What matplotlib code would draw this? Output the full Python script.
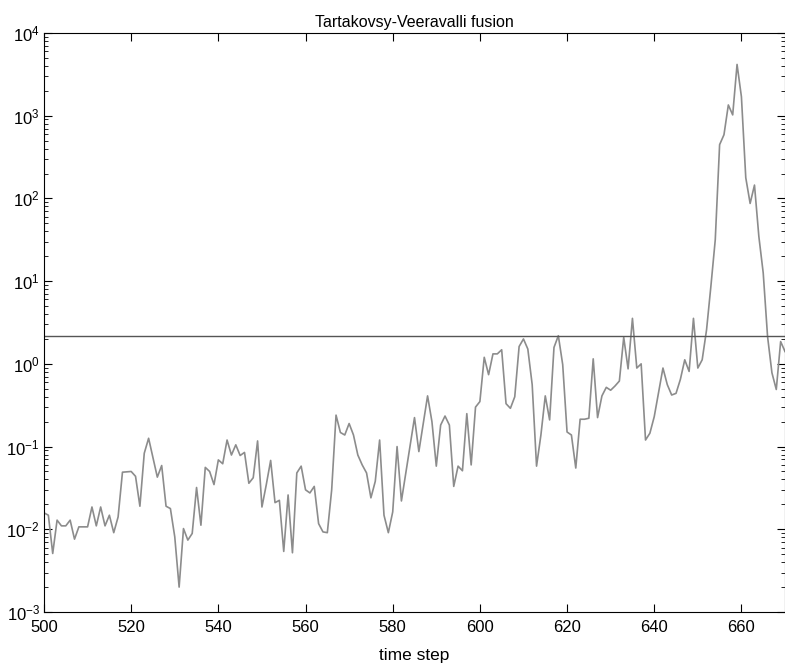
import matplotlib
matplotlib.use('Agg')
import matplotlib.pyplot as plt

# time steps and fused statistic (log scale)
time_steps = [500, 501, 502, 503, 504, 505, 506, 507, 508, 510,
              511, 512, 513, 514, 515, 516, 517, 518, 520, 521,
              522, 523, 524, 526, 527, 528, 529, 530, 531, 532,
              533, 534, 535, 536, 537, 538, 539, 540, 541, 542,
              543, 544, 545, 546, 547, 548, 549, 550, 551, 552,
              553, 554, 555, 556, 557, 558, 559, 560, 561, 562,
              563, 564, 565, 566, 567, 568, 569, 570, 571, 572,
              573, 574, 575, 576, 577, 578, 579, 580, 581, 582,
              585, 586, 588, 589, 590, 591, 592, 593, 594, 595,
              596, 597, 598, 599, 600, 601, 602, 603, 604, 605,
              606, 607, 608, 609, 610, 611, 612, 613, 614, 615,
              616, 617, 618, 619, 620, 621, 622, 623, 624, 625,
              626, 627, 628, 629, 630, 631, 632, 633, 634, 635,
              636, 637, 638, 639, 640, 642, 643, 644, 645, 646,
              647, 648, 649, 650, 651, 652, 653, 654, 655, 656,
              657, 658, 659, 660, 661, 662, 663, 664, 665, 666,
              667, 668, 669, 670]
stat_values = [0.0158, 0.0148, 0.0051, 0.0129, 0.011, 0.011, 0.0129, 0.0076, 0.0107, 0.0107,
               0.0186, 0.011, 0.0186, 0.011, 0.0148, 0.0091, 0.0141, 0.049, 0.050, 0.0437,
               0.019, 0.083, 0.126, 0.0427, 0.059, 0.019, 0.0178, 0.0081, 0.0020, 0.0102,
               0.0074, 0.0089, 0.032, 0.0112, 0.056, 0.050, 0.0347, 0.069, 0.062, 0.12,
               0.079, 0.105, 0.078, 0.085, 0.036, 0.042, 0.117, 0.0186, 0.0347, 0.068,
               0.021, 0.0224, 0.0054, 0.026, 0.0052, 0.048, 0.058, 0.030, 0.0275, 0.033,
               0.0117, 0.0093, 0.0091, 0.030, 0.24, 0.148, 0.138, 0.19, 0.138, 0.079,
               0.060, 0.048, 0.024, 0.038, 0.12, 0.0148, 0.0091, 0.0162, 0.10, 0.022,
               0.224, 0.087, 0.41, 0.20, 0.058, 0.182, 0.234, 0.182, 0.033, 0.058,
               0.051, 0.25, 0.060, 0.30, 0.35, 1.2, 0.74, 1.32, 1.32, 1.48,
               0.33, 0.29, 0.40, 1.62, 2.0, 1.51, 0.56, 0.058, 0.138, 0.41,
               0.21, 1.58, 2.19, 0.98, 0.15, 0.138, 0.055, 0.214, 0.214, 0.22,
               1.15, 0.224, 0.41, 0.52, 0.48, 0.54, 0.62, 2.09, 0.87, 3.55,
               0.89, 1.0, 0.12, 0.145, 0.23, 0.89, 0.56, 0.42, 0.44, 0.65,
               1.12, 0.81, 3.55, 0.89, 1.12, 2.57, 8.7, 31.6, 447, 589,
               1349, 1023, 4169, 1698, 178, 87, 145, 34.7, 12.6, 2.14,
               0.78, 0.49, 1.86, 1.41]
threshold = 2.2

plt.rcParams['font.family'] = ['Liberation Sans', 'DejaVu Sans']

fig = plt.figure(figsize=(7.85, 6.72), dpi=100)
ax = fig.add_axes([44 / 785, 1 - 612 / 672, 741 / 785, (612 - 33) / 672])

ax.semilogy(time_steps, stat_values, color='#8c8c8c', linewidth=1.2)
ax.axhline(threshold, color='#555555', linewidth=1.0)

ax.set_xlim(500, 670)
ax.set_ylim(1e-3, 1e4)
ax.set_xticks(range(500, 661, 20))
ax.tick_params(which='both', direction='in', top=True, right=True, labelsize=12)
ax.tick_params(axis='x', pad=6)
ax.tick_params(axis='y', pad=3)
ax.tick_params(which='major', length=6)
ax.tick_params(which='minor', length=3)
for s in ax.spines.values():
    s.set_linewidth(0.8)

ax.set_title('Tartakovsy-Veeravalli fusion', fontsize=11.5, pad=4)
ax.set_xlabel('time step', fontsize=12.5, labelpad=9)

fig.savefig('out.png', dpi=100)
